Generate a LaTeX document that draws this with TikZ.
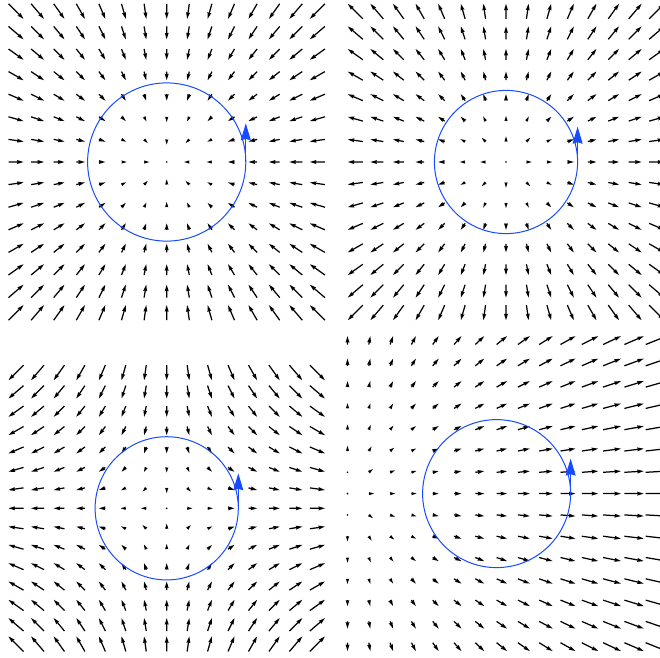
\documentclass[tikz,border=0pt]{standalone}
\usetikzlibrary{arrows.meta}
\definecolor{circblue}{RGB}{22,75,255}
\tikzset{
  qfill/.style={fill=black},
  circleline/.style={draw=circblue, line width=1pt},
  circlearrow/.style={draw=circblue, line width=1pt, -{Stealth[length=17pt,width=10pt,inset=1.5pt]}},
}
\newcommand\qarrow[4]{%
  \pgfmathsetmacro\qL{veclen(#3,#4)}%
  \ifdim\qL pt<1.2pt
    \fill[qfill] (#1,#2) circle[radius=0.9];
  \else
    \pgfmathsetmacro\qux{(#3)/\qL}%
    \pgfmathsetmacro\quy{(#4)/\qL}%
    \pgfmathsetmacro\qD{max(\qL,5.2)}%
    \pgfmathsetmacro\qLe{max(\qD,6.5)}%
    \pgfmathsetmacro\qf{\qD/\qLe}%
    \pgfmathsetmacro\qa{\qf*(\qLe-5.85)}%
    \pgfmathsetmacro\qb{\qf*(\qLe-6.5)}%
    \pgfmathsetmacro\qs{\qf*0.62}%
    \pgfmathsetmacro\qh{\qf*2.0}%
    \fill[qfill] ({#1-\qs*\quy},{#2+\qs*\qux})
      -- ({#1+\qa*\qux-\qs*\quy},{#2+\qa*\quy+\qs*\qux})
      -- ({#1+\qb*\qux-\qh*\quy},{#2+\qb*\quy+\qh*\qux})
      -- ({#1+\qD*\qux},{#2+\qD*\quy})
      -- ({#1+\qb*\qux+\qh*\quy},{#2+\qb*\quy-\qh*\qux})
      -- ({#1+\qa*\qux+\qs*\quy},{#2+\qa*\quy-\qs*\qux})
      -- ({#1+\qs*\quy},{#2-\qs*\qux}) -- cycle;
  \fi}
\begin{document}
\begin{tikzpicture}[x=1pt,y=-1pt]
\useasboundingbox (0,0) rectangle (660,657);
% panel 1: sink
\foreach \i in {-7,...,7}{\foreach \j in {-7,...,7}{
  \pgfmathsetmacro\tx{166.7+22.6*\i}\pgfmathsetmacro\ty{162-22.6*\j}
  \pgfmathsetmacro\vx{-2.1429*\i}\pgfmathsetmacro\vy{2.1429*\j}
  \qarrow{\tx}{\ty}{\vx}{\vy}}}
% panel 2: source
\foreach \i in {-7,...,7}{\foreach \j in {-7,...,7}{
  \pgfmathsetmacro\tx{506+20.45*\i}\pgfmathsetmacro\ty{162-20.45*\j}
  \pgfmathsetmacro\vx{2.1429*\i}\pgfmathsetmacro\vy{-2.1429*\j}
  \qarrow{\tx}{\ty}{\vx}{\vy}}}
% panel 3: saddle
\foreach \i in {-7,...,7}{\foreach \j in {-7,...,7}{
  \pgfmathsetmacro\tx{166.7+20.45*\i}\pgfmathsetmacro\ty{508.3-20.45*\j}
  \pgfmathsetmacro\vx{2.1429*\i}\pgfmathsetmacro\vy{2.1429*\j}
  \qarrow{\tx}{\ty}{\vx}{\vy}}}
% panel 4
\foreach \i in {0,...,14}{\foreach \j in {-7,...,7}{
  \pgfmathsetmacro\tx{347.5+21.3*\i}\pgfmathsetmacro\ty{493.6-21.3*\j}
  \pgfmathsetmacro\vx{1.482*\i}\pgfmathsetmacro\vy{-1.186*\j}
  \qarrow{\tx}{\ty}{\vx}{\vy}}}
% circles
\draw[circleline] (166.7,162) circle[radius=79.1];
\draw[circlearrow] (245.8,162) -- (245.8,123.3);
\draw[circleline] (506,162) circle[radius=71.6];
\draw[circlearrow] (577.6,162) -- (577.6,126.7);
\draw[circleline] (166.7,508.3) circle[radius=71.6];
\draw[circlearrow] (238.3,508.3) -- (238.3,473.3);
\draw[circleline] (496.6,493.6) circle[radius=74];
\draw[circlearrow] (570.6,493.6) -- (570.6,458.6);
\end{tikzpicture}
\end{document}
